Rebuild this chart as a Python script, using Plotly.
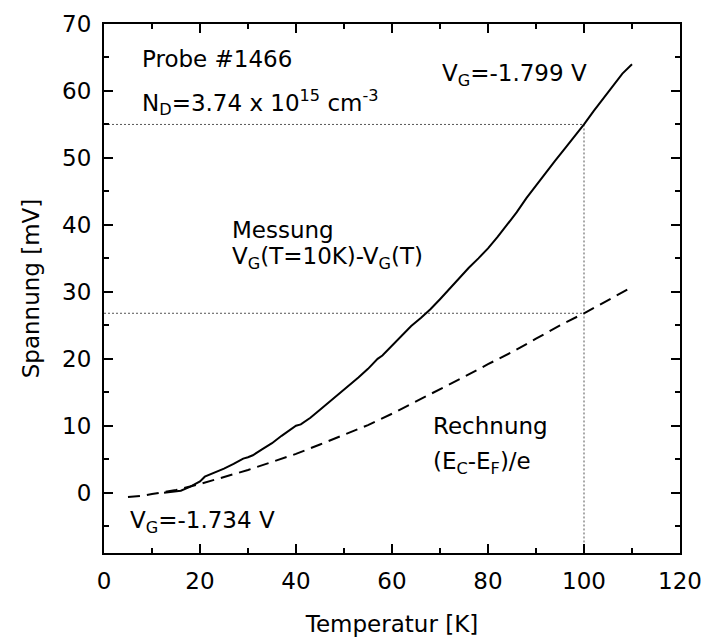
import plotly.graph_objects as go

# Measured gate-voltage shift V_G(T=10K) - V_G(T)
t_mess = [12.5, 15, 16, 18, 19, 20, 21, 22, 24, 25, 27, 29, 30, 31, 33, 35, 37, 39, 40, 41,
          43, 45, 47, 49, 51, 53, 55, 57, 58, 60, 62, 64, 66, 68, 70, 72, 74, 76, 78, 80,
          82, 84, 86, 88, 90, 92, 94, 96, 98, 100, 102, 104, 106, 108, 110]
u_mess = [0.0, 0.2, 0.3, 0.9, 1.3, 1.7, 2.4, 2.7, 3.2, 3.6, 4.3, 5.1, 5.3, 5.6, 6.5, 7.4, 8.5, 9.5, 10.0, 10.2,
          11.2, 12.4, 13.6, 14.8, 15.9, 17.2, 18.5, 20.0, 20.5, 22.0, 23.5, 24.9, 26.1, 27.4, 28.9, 30.5, 32.0, 33.6, 35.0, 36.5,
          38.2, 40.0, 41.9, 44.0, 45.9, 47.8, 49.6, 51.4, 53.2, 55.0, 57.0, 58.9, 60.8, 62.6, 64.0]

# Calculated (E_C - E_F)/e
t_rech = [5, 8, 10, 12, 15, 20, 25, 30, 35, 40, 45, 50, 55, 60, 65, 70, 75, 80, 85, 90, 95, 100, 105, 110]
u_rech = [-0.65, -0.45, -0.2, 0.0, 0.4, 1.3, 2.3, 3.4, 4.6, 5.8, 7.2, 8.6, 10.1, 11.8, 13.6, 15.5, 17.3, 19.2,
          21.0, 23.0, 25.0, 26.8, 28.8, 30.7]

# Reference level at T = 100 K
t_ref = 100
u_ref_mess = 55.0
u_ref_rech = 26.8

x_range = [0, 120]
y_range = [-9, 70]

font = "DejaVu Sans, Liberation Sans, Arial, sans-serif"
fs = 23

fig = go.Figure()

# dotted guide lines
fig.add_trace(go.Scatter(x=[x_range[0], t_ref, t_ref], y=[u_ref_mess, u_ref_mess, y_range[0]],
                         mode="lines", line=dict(color="#555555", width=1, dash="2px,2px"),
                         hoverinfo="skip", showlegend=False))
fig.add_trace(go.Scatter(x=[x_range[0], t_ref], y=[u_ref_rech, u_ref_rech],
                         mode="lines", line=dict(color="#555555", width=1, dash="2px,2px"),
                         hoverinfo="skip", showlegend=False))

fig.add_trace(go.Scatter(x=t_rech, y=u_rech, mode="lines",
                         line=dict(color="black", width=2, dash="12px,7px"),
                         showlegend=False, name="Rechnung"))
fig.add_trace(go.Scatter(x=t_mess, y=u_mess, mode="lines",
                         line=dict(color="black", width=2),
                         showlegend=False, name="Messung"))

axis_common = dict(
    showline=True, linecolor="black", linewidth=2, mirror="ticks",
    ticks="inside", ticklen=9, tickwidth=2, tickcolor="black",
    showgrid=False, zeroline=False, automargin=False,
    tickfont=dict(family=font, size=fs, color="black"),
)

fig.update_xaxes(range=x_range, dtick=20, tick0=0, ticklabelstandoff=6,
                 minor=dict(dtick=10, ticks="inside", ticklen=5, tickwidth=2, tickcolor="black"),
                 title=dict(text="Temperatur [K]", font=dict(family=font, size=fs, color="black"), standoff=26),
                 **axis_common)
fig.update_yaxes(range=y_range, dtick=10, tick0=0, ticklabelstandoff=6,
                 minor=dict(dtick=5, ticks="inside", ticklen=5, tickwidth=2, tickcolor="black"),
                 title=dict(text="Spannung [mV]", font=dict(family=font, size=fs, color="black"), standoff=16),
                 **axis_common)

def label(x, y, text):
    fig.add_annotation(x=x, y=y, xref="x", yref="y", text=text, showarrow=False,
                       xanchor="left", yanchor="middle",
                       font=dict(family=font, size=fs, color="black"))

label(7.5, 64.7, "Probe #1466")
label(7.5, 58.3, "N<sub>D</sub>=3.74 x 10<sup>15</sup> cm<sup>-3</sup>")
label(70.1, 62.4, "V<sub>G</sub>=-1.799 V")
label(26.3, 39.3, "Messung")
label(26.3, 35.0, "V<sub>G</sub>(T=10K)-V<sub>G</sub>(T)")
label(68.1, 10.0, "Rechnung")
label(68.1, 4.4, "(E<sub>C</sub>-E<sub>F</sub>)/e")
label(5.0, -4.4, "V<sub>G</sub>=-1.734 V")

fig.update_layout(
    width=704, height=637,
    margin=dict(l=104, r=24, t=24, b=84),
    paper_bgcolor="white", plot_bgcolor="white",
    font=dict(family=font, size=fs, color="black"),
)

fig.write_html("out.html")
